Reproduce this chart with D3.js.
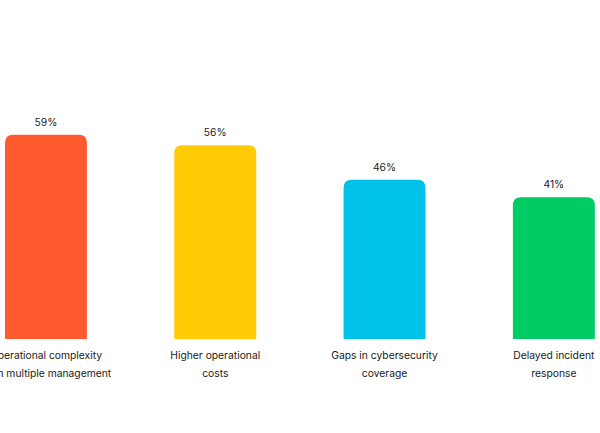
<!DOCTYPE html>
<html>
<head>
<meta charset="utf-8">
<script src="https://cdn.jsdelivr.net/npm/d3@7"></script>
<style>
  html, body { margin: 0; padding: 0; background: #fff; }
  svg { display: block; }
  text { font-family: Inter, "Noto Sans", sans-serif; fill: #1a1a1a; }
</style>
</head>
<body>
<svg id="chart"></svg>
<script>
// chart data
var categories = [
    ["Operational complexity", "from multiple management"],
    ["Higher operational", "costs"],
    ["Gaps in cybersecurity", "coverage"],
    ["Delayed incident", "response"]
];
var values = [59, 56, 46, 41];
var colors = ["#FF5B2F", "#FFCB05", "#00C1E8", "#00CC66"];

var width = 600;
var height = 433;
var baseline = 339;

var svg = d3.select("#chart")
    .attr("width", width)
    .attr("height", height);

var x = d3.scaleBand()
    .domain(d3.range(values.length))
    .range([-38.7, 638.5])
    .paddingInner(0.516)
    .paddingOuter(0.258);

var y = d3.scaleLinear()
    .domain([0, 100])
    .range([baseline, -7]);

// bar with rounded top corners only
function topRoundedBar(x0, y0, w, h, r) {
    r = Math.min(r, h, w / 2);
    return "M" + x0 + "," + (y0 + h) +
        "V" + (y0 + r) +
        "Q" + x0 + "," + y0 + " " + (x0 + r) + "," + y0 +
        "H" + (x0 + w - r) +
        "Q" + (x0 + w) + "," + y0 + " " + (x0 + w) + "," + (y0 + r) +
        "V" + (y0 + h) + "Z";
}

var bars = svg.append("g").attr("class", "bars");

bars.selectAll("path")
    .data(values)
    .enter().append("path")
    .attr("fill", function(d, i) { return colors[i]; })
    .attr("d", function(d, i) {
        return topRoundedBar(x(i), y(d), x.bandwidth(), baseline - y(d), 8);
    });

// value labels
bars.selectAll("text.value")
    .data(values)
    .enter().append("text")
    .attr("class", "value")
    .attr("x", function(d, i) { return x(i) + x.bandwidth() / 2; })
    .attr("y", function(d) { return y(d) - 9; })
    .attr("text-anchor", "middle")
    .style("font-size", "10.3px")
    .text(function(d) { return d + "%"; });

// category labels, two lines each
var labels = svg.append("g").attr("class", "labels");

labels.selectAll("text")
    .data(categories)
    .enter().append("text")
    .attr("text-anchor", "middle")
    .style("font-size", "10.3px")
    .each(function(lines, i) {
        var t = d3.select(this);
        lines.forEach(function(line, k) {
            t.append("tspan")
                .attr("x", x(i) + x.bandwidth() / 2)
                .attr("y", 359 + k * 17.5)
                .text(line);
        });
    });
</script>
</body>
</html>
